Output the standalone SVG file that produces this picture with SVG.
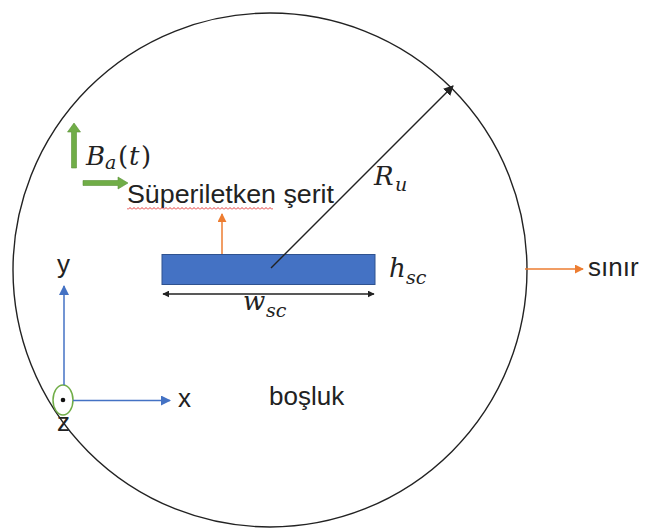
<svg xmlns="http://www.w3.org/2000/svg" width="645" height="530" viewBox="0 0 645 530">
<style>
.lbl{font-family:"Liberation Sans",Arial,sans-serif;font-size:26px;fill:#222}
.math{font-family:"DejaVu Serif","Liberation Serif",serif;font-style:italic;fill:#222}
.blk{stroke:#222;stroke-width:1.4;fill:none}
.org{stroke:#ED7D31;stroke-width:1.5;fill:none}
.blu{stroke:#4472C4;stroke-width:1.5;fill:none}
</style>
<defs>
<marker id="ab" viewBox="0 0 10 10" refX="9" refY="5" markerWidth="7" markerHeight="7" markerUnits="userSpaceOnUse" orient="auto-start-reverse"><path d="M0,0 L10,5 L0,10 z" fill="#222"/></marker>
<marker id="ab2" viewBox="0 0 10 10" refX="9" refY="5" markerWidth="10" markerHeight="10" markerUnits="userSpaceOnUse" orient="auto-start-reverse"><path d="M0,0 L10,5 L0,10 z" fill="#222"/></marker>
<marker id="ao" viewBox="0 0 10 10" refX="9" refY="5" markerWidth="9" markerHeight="9" markerUnits="userSpaceOnUse" orient="auto"><path d="M0,0 L10,5 L0,10 z" fill="#ED7D31"/></marker>
<marker id="abl" viewBox="0 0 10 10" refX="9" refY="5" markerWidth="10" markerHeight="10" markerUnits="userSpaceOnUse" orient="auto"><path d="M0,0 L10,5 L0,10 z" fill="#4472C4"/></marker>
<pattern id="squig" width="4" height="3" patternUnits="userSpaceOnUse"><path d="M0,2.5 L2,0.5 L4,2.5" stroke="#E02020" stroke-width="0.9" fill="none"/></pattern>
</defs>
<rect width="645" height="530" fill="#fff"/>

<g id="boundary">
<circle cx="270" cy="270" r="257" fill="none" stroke="#222" stroke-width="1.4"/>
</g>

<g id="strip">
<rect x="162" y="254.5" width="213" height="30" fill="#4472C4" stroke="#2F528F" stroke-width="1"/>
</g>

<g id="field">
<path d="M71.5,168 L71.5,132 L67.5,132 L74,123 L80.5,132 L76.5,132 L76.5,168 Z" fill="#70AD47" stroke="#5B9237" stroke-width="0.6"/>
<path d="M83,180.5 L118,180.5 L118,177 L128,183 L118,189 L118,185.5 L83,185.5 Z" fill="#70AD47" stroke="#5B9237" stroke-width="0.6"/>
<text class="math" font-size="26"><tspan x="86" y="165">B</tspan><tspan x="105" y="169" font-size="19">a</tspan><tspan x="118" y="165" font-style="normal">(</tspan><tspan x="129" y="165">t</tspan><tspan x="141" y="165" font-style="normal">)</tspan></text>
</g>

<g id="strip-label">
<text class="lbl" x="127" y="203" textLength="207" lengthAdjust="spacingAndGlyphs">Süperiletken şerit</text>
<rect x="127" y="207" width="146" height="3" fill="url(#squig)"/>
</g>

<g id="radius-label">
<text class="math" font-size="26"><tspan x="374" y="185">R</tspan><tspan x="395" y="191" font-size="19">u</tspan></text>
</g>

<g id="height-label">
<text class="math" font-size="26"><tspan x="389" y="277">h</tspan><tspan x="406" y="284" font-size="19">sc</tspan></text>
</g>

<g id="width-label">
<text class="math" font-size="26"><tspan x="243" y="310">w</tspan><tspan x="266" y="317" font-size="19">sc</tspan></text>
</g>

<g id="gap-label">
<text class="lbl" x="269" y="405">boşluk</text>
</g>

<g id="boundary-label">
<text class="lbl" x="588" y="276">sınır</text>
</g>

<g id="axes">
<text class="lbl" x="57" y="273">y</text>
<text class="lbl" x="178" y="407">x</text>
<text class="lbl" x="57" y="431">z</text>
<ellipse cx="63" cy="400" rx="10" ry="15" fill="#fff" stroke="#70AD47" stroke-width="1.5"/>
<circle cx="63" cy="400" r="2.3" fill="#111"/>
</g>

<g id="connectors">
<line class="blk" x1="271" y1="268" x2="453" y2="86" marker-end="url(#ab2)"/>
<line class="blk" x1="163" y1="294" x2="374" y2="294" marker-start="url(#ab)" marker-end="url(#ab)"/>
<line class="org" x1="222" y1="254" x2="222" y2="214" marker-end="url(#ao)"/>
<line class="org" x1="525" y1="269" x2="583" y2="269" marker-end="url(#ao)"/>
<line class="blu" x1="64" y1="385" x2="64" y2="286" marker-end="url(#abl)"/>
<line class="blu" x1="73" y1="400.5" x2="170" y2="400.5" marker-end="url(#abl)"/>
</g>
</svg>
